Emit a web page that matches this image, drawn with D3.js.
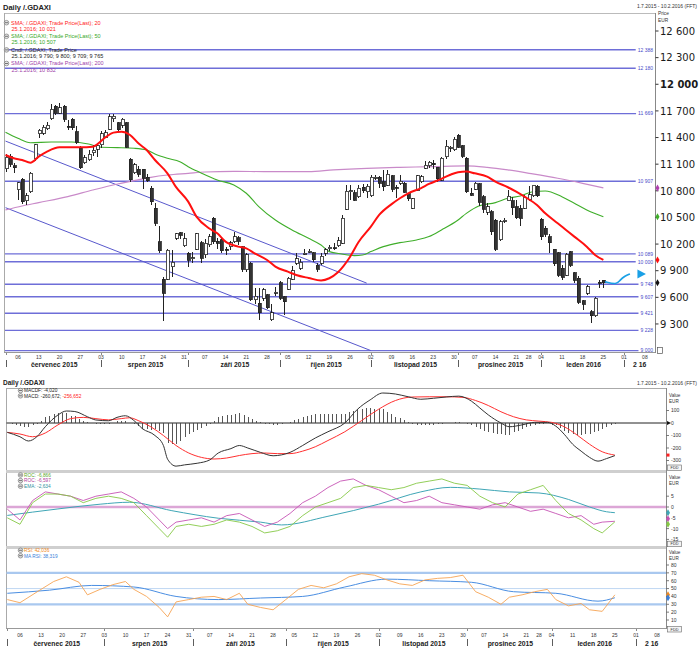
<!DOCTYPE html>
<html>
<head>
<meta charset="utf-8">
<script src="https://cdn.jsdelivr.net/npm/d3@7/dist/d3.min.js"></script>
<style>
html,body{margin:0;padding:0;background:#fff;}
svg{display:block;}
</style>
</head>
<body>
<svg id="chart" width="700" height="650"></svg>
<script>
// ================= DATA =================
const holidays = ["2015-12-24","2015-12-25","2015-12-31","2016-01-01"];
const firstDay = "2015-07-01", lastDay = "2016-02-10";
const weekTicks = ["2015-07-06","2015-07-13","2015-07-20","2015-07-27","2015-08-03","2015-08-10","2015-08-17","2015-08-24","2015-08-31","2015-09-07","2015-09-14","2015-09-21","2015-09-28","2015-10-05","2015-10-12","2015-10-19","2015-10-26","2015-11-02","2015-11-09","2015-11-16","2015-11-23","2015-11-30","2015-12-07","2015-12-14","2015-12-21","2015-12-28","2016-01-04","2016-01-11","2016-01-18","2016-01-25","2016-02-01","2016-02-08"];
const weekTickLabels = ["06","13","20","27","03","10","17","24","31","07","14","21","28","05","12","19","26","02","09","16","23","30","07","14","21","28","04","11","18","25","01","08"];
const monthStarts = ["2015-07-01","2015-08-03","2015-09-01","2015-10-01","2015-11-02","2015-12-01","2016-01-04","2016-02-01"];
const monthLabels = ["červenec 2015","srpen 2015","září 2015","říjen 2015","listopad 2015","prosinec 2015","leden 2016","2 16"];

// Candles (trading days from 1.7.2015 to 25.1.2016)
const opens = [11050,11190,11080,10810,10930,10690,10790,11160,11440,11450,
11500,11610,11750,11675,11755,11525,11605,11466,11278,11117,
11150,11230,11270,11316,11403,11493,11610,11568,11541,11568,
11155,11004,11040,11042,10950,10828,10603,10227,9803,9803,
9946,10265,10329,10179,10096,10040,10141,10216,10080,10190,
10490,10230,10246,10140,10170,10227,10270,10171,9908,9983,
9570,9533,9590,9627,9345,9650,9766,9608,9690,9803,
9983,9927,10090,10115,10104,9964,9983,10096,10150,10160,
10179,10208,10592,10800,10780,10734,10840,10790,10742,10950,
10952,10900,10865,10967,10840,10884,10884,10764,10603,10809,
10900,11053,11080,11110,11064,10921,11185,11280,11260,11428,
11305,11166,10770,10817,10877,10734,10560,10565,10471,10246,
10460,10689,10689,10621,10603,10603,10697,10742,10854,10479,
10377,10284,10141,10104,9930,9851,10115,9878,9815,9563,
9646,9439,9390,9770,9790];
const highs = [11210,11220,11110,10900,10945,10770,11010,11330,11500,11540,
11570,11780,11770,11790,11770,11600,11620,11530,11300,11200,
11260,11320,11330,11470,11480,11660,11670,11580,11620,11580,
11170,11110,11080,11050,10990,10850,10660,10400,9830,10150,
10130,10330,10340,10330,10110,10110,10330,10230,10260,10310,
10510,10270,10265,10170,10240,10340,10290,10180,10100,10000,
9700,9700,9700,9640,9530,9720,9780,9620,9830,9950,
10100,10030,10150,10140,10115,9985,10095,10160,10190,10210,
10280,10530,10870,10860,10810,10860,10880,10880,10980,10980,
10970,11030,11030,10980,10860,10980,10900,10780,10720,10980,
10980,11140,11140,11150,11070,11185,11370,11310,11410,11440,
11320,11185,10830,10900,10885,10750,10660,10580,10480,10470,
10490,10810,10730,10700,10640,10750,10850,10865,10865,10490,
10400,10310,10150,10115,9960,10100,10125,9890,9835,9570,
9740,9460,9600,9800,9800];
const lows = [11010,11070,11000,10700,10650,10640,10770,11140,11400,11430,
11490,11600,11650,11660,11580,11480,11490,11330,11040,11100,
11140,11190,11180,11280,11390,11480,11580,11460,11510,11280,
10900,10990,10960,10820,10900,10640,10400,10100,9338,9790,
9830,10250,10260,10170,9940,9990,10130,9990,10040,10170,
10200,10150,10100,10080,10130,10210,10190,9890,9890,9560,
9530,9340,9560,9470,9330,9610,9570,9400,9680,9790,
9960,9910,10080,10100,10000,9890,9965,10065,10120,10130,
10170,10200,10580,10700,10680,10720,10780,10720,10735,10920,
10830,10800,10850,10790,10720,10860,10770,10690,10590,10800,
10890,11040,11060,11050,10900,10910,11160,11240,11250,11280,
11170,10770,10740,10810,10630,10550,10530,10300,10120,10230,
10440,10680,10530,10480,10400,10590,10680,10735,10735,10250,
10280,10100,9950,9830,9790,9840,9940,9760,9530,9460,
9630,9314,9380,9700,9709];
const closes = [11180,11100,11058,10890,10676,10747,10996,11316,11484,11516,
11540,11716,11673,11735,11604,11520,11512,11347,11057,11173,
11212,11257,11308,11444,11456,11636,11641,11490,11604,11293,
10924,11091,10985,10940,10915,10678,10432,10124,9648,10128,
9997,10315,10298,10259,10016,10048,10318,10038,10210,10284,
10227,10210,10123,10131,10216,10283,10229,9916,10077,9570,
9612,9427,9688,9483,9428,9660,9590,9553,9814,9902,
10032,9993,10096,10119,10021,9915,10064,10134,10164,10147,
10238,10491,10795,10801,10692,10831,10800,10850,10950,10951,
10887,10845,10988,10815,10832,10907,10782,10708,10713,10971,
10959,11085,11119,11092,10934,11169,11300,11293,11382,11290,
11190,10789,10752,10886,10673,10592,10620,10340,10139,10451,
10470,10738,10608,10497,10488,10727,10753,10860,10743,10283,
10310,10214,9979,9849,9825,10088,9960,9795,9545,9521,
9721,9392,9589,9764,9765];

// Moving averages (trading-day index, value)
const sma20Idx = [0,2,4,6,8,10,13,18,21,22,24,26,28,30,32,34,36,39,41,44,46,49,51,53,56,58,60,63,65,68,70,73,76,78,80,83,85,88,90,93,95,97,100,102,105,107,109,111,113,116,118,121,123,125,128,130,133,135,137,140,142,144];
const sma20Val = [11203,11166,11147,11117,11185,11241,11290,11290,11297,11320,11400,11455,11466,11429,11335,11260,11147,10997,10847,10678,10509,10378,10321,10227,10171,10152,10096,10021,9946,9889,9852,9818,9790,9815,9880,10058,10220,10396,10528,10650,10716,10772,10828,10877,10935,10978,11010,11016,10997,10960,10903,10840,10790,10734,10640,10546,10434,10359,10284,10171,10077,10021];
const sma50Idx = [0,3,6,11,16,20,23,27,31,34,36,39,42,44,47,51,55,58,61,65,69,73,76,78,81,84,86,88,91,95,99,102,105,109,111,114,118,121,124,127,130,134,137,140,144];
const sma50Val = [11459,11391,11342,11350,11350,11327,11290,11286,11279,11260,11215,11166,11128,11072,11004,10922,10866,10772,10622,10471,10359,10265,10190,10115,10088,10070,10077,10115,10171,10216,10246,10284,10359,10471,10546,10629,10667,10716,10742,10790,10798,10734,10659,10584,10507];
const sma200Idx = [0,4,8,15,21,27,31,35,39,44,48,55,63,73,79,87,95,103,111,116,121,127,133,139,144];
const sma200Val = [10584,10629,10667,10734,10809,10877,10914,10952,10978,10997,11012,11019,11016,11016,11035,11053,11064,11072,11080,11064,11035,10990,10941,10884,10832];

// Horizontal levels and trend channel
const levels = [12388,12180,11669,10907,10089,10000,9748,9607,9421,9228,9000];
const trendStartIdx = [0,0], trendStartVal = [11360,10610];
const trendEndIdx = [87,88], trendEndVal = [9760,9000];
const priceTicks = [9300,9600,9900,10200,10500,10800,11100,11400,11700,12000,12300,12600];
const annotIdx = [144.4,147.2,148,149.2,150.4];
const annotVal = [9777,9740,9796,9841,9864];

// MACD panel
const macdIdx = [0,3,5,7,9,12,14,16,19,21,24,26,28,30,32,35,37,38,40,42,45,48,50,53,55,57,60,63,65,67,70,73,76,80,83,86,89,92,95,98,101,104,107,110,112,114,117,119,122,125,128,130,132,134,136,138,140,142,144];
const macdVal = [-75,-110,-144,-110,-30,64,96,92,50,24,18,45,58,20,-45,-100,-180,-290,-345,-335,-322,-295,-240,-205,-180,-200,-235,-262,-255,-235,-180,-120,-70,0,110,185,240,232,210,190,198,208,215,175,120,65,0,-30,-15,5,5,-25,-90,-170,-225,-275,-305,-285,-261];
const signalIdx = [0,3,6,9,12,15,18,21,24,27,29,31,34,37,40,43,46,49,52,55,58,61,64,67,70,73,76,80,84,88,92,96,100,104,108,111,114,117,120,123,126,129,132,135,138,141,144];
const signalVal = [-75,-88,-110,-80,-15,35,45,35,25,35,42,20,-30,-100,-180,-240,-275,-288,-280,-260,-245,-240,-245,-245,-225,-190,-140,-70,20,110,180,208,210,210,205,180,140,90,50,25,15,5,-30,-95,-170,-230,-257];
const histVal = [0,-8,-14,-22,-28,-34,-17,-10,20,50,
59,70,79,78,78,59,54,36,19,8,
-1,-11,-10,-8,-7,3,13,16,20,-3,
-11,-20,-48,-50,-52,-47,-63,-80,-163,-165,
-165,-140,-115,-91,-74,-59,-38,-25,-11,20,
45,55,63,68,74,80,65,50,33,20,
7,-4,-11,-19,-14,-10,0,10,21,34,
45,53,62,70,70,70,70,70,70,71,
70,85,98,113,115,117,120,115,112,112,
92,72,52,38,23,9,-5,-12,-19,-17,
-15,-12,-9,-5,-2,1,6,9,-3,-9,
-13,-32,-47,-60,-75,-80,-85,-90,-92,-93,
-75,-62,-48,-33,-24,-13,-10,-7,-3,-15,
-18,-39,-60,-78,-90,-95,-95,-90,-85,-75,
-60,-45,-30,-18,-4];
const macdTicks = [100,0,-100,-200,-300];

// ROC panel
const rocIdx = [0,3,6,9,12,15,18,21,24,27,30,33,36,38,40,43,46,49,52,55,58,61,64,67,70,73,76,79,82,85,88,91,94,97,100,103,106,109,112,115,118,121,124,127,130,133,136,139,141,144];
const rocGreen = [-5,-8,2,6,6,5,2,4,5,4,2,-4,-10,-14,-9,-8,-9,-8,-6,-7,-9,-12,-11,-9,-4,0,2,4,9,10,9,8,9,11,12,13,11,10,5,2,0,6,8,10,3,-3,-6,-10,-12,-6.866];
const rocMagenta = [-1,-6,3,7,6,5,3,5,6,7,4,0,-6,-10,-7,-6,-5,-7,-4,-3,-6,-9,-7,-3,2,5,9,12,13,10,8,5,2,3,5,2,1,0,-1,1,2,0,-2,-1,-3,-5,-4,-8,-7,-6.597];
const emaIdx = [0,12,22,29,39,50,60,65,76,88,98,105,112,119,126,133,138,142,144];
const emaVal = [-3.9,-0.9,1.3,2.2,-1.7,-5.2,-7,-8.3,-4.3,1.3,7,9.1,8.3,7,6.5,3.5,0,-2.2,-2.634];
const rocTicks = [5,0,-5,-10,-15];

// RSI panel
const rsiIdx = [0,3,8,11,14,17,19,22,25,28,30,33,36,38,40,43,46,49,52,55,57,60,63,66,69,72,75,78,81,84,87,90,93,96,99,102,105,108,111,114,117,119,122,125,128,130,133,136,138,141,144];
const rsiVal = [36,32,49,59,65,58,42,49,55,59,49,40,26,14,33,36,39,40,36,44,30,26,23,36,49,54,51,56,65,69,67,61,56,54,61,63,64,67,46,39,30,39,42,46,49,36,28,31,23,21,42.036];
const maRsiIdx = [0,10,20,30,40,50,60,70,80,90,100,110,120,130,140,144];
const maRsiVal = [44,48,54,52,40,36,38,40,52,62,60,58,46,44,34,38.319];
const rsiTicks = [80,70,60,50,40,30,20,10];

// ================= SETUP =================
const F1 = "'DejaVu Sans', Verdana, sans-serif";
const F2 = "'Liberation Sans', Arial, sans-serif";
const parse = d3.utcParse("%Y-%m-%d"), fmtD = d3.utcFormat("%Y-%m-%d");
const days = d3.utcDay.range(parse(firstDay), d3.utcDay.offset(parse(lastDay), 1))
  .filter(d => d.getUTCDay() !== 0 && d.getUTCDay() !== 6 && !holidays.includes(fmtD(d)))
  .map(fmtD);
const dayIndex = new Map(days.map((d, i) => [d, i]));
const nLast = days.length - 1;
const loc = d3.formatLocale({decimal: ",", thousands: " ", grouping: [3], currency: ["", ""]});
const fmtInt = loc.format(",d");

const svg = d3.select("#chart");
svg.append("rect").attr("width", 700).attr("height", 650).attr("fill", "#fff");

function text(g, x, y, s, o = {}) {
  return g.append("text").attr("x", x).attr("y", y).text(s)
    .attr("font-family", o.font || F2).attr("font-size", o.size || 5.5)
    .attr("font-weight", o.bold ? "bold" : "normal")
    .attr("fill", o.fill || "#222").attr("text-anchor", o.anchor || "start");
}
function icon(g, x, y) {
  g.append("circle").attr("cx", x).attr("cy", y).attr("r", 2.3).attr("fill", "#e4e4e4").attr("stroke", "#666").attr("stroke-width", 0.6);
  g.append("line").attr("x1", x - 1.5).attr("x2", x + 1.5).attr("y1", y).attr("y2", y).attr("stroke", "#444").attr("stroke-width", 0.7);
}
function marker(g, x, y, color) {
  g.append("path").attr("d", d3.symbol(d3.symbolDiamond, 14)()).attr("transform", `translate(${x},${y})`).attr("fill", color);
}

// ================= MAIN PANEL =================
const xM = d3.scaleLinear().domain([0, nLast]).range([5.5, 653.2]);
const yM = d3.scaleLinear().domain([9000, 12600]).range([350.6, 31]);
const main = svg.append("g");

text(main, 3, 9.5, "Daily /.GDAXI", {size: 7.5, bold: true, fill: "#222"});
text(main, 697, 7.5, "1.7.2015 - 10.2.2016 (FFT)", {size: 5, anchor: "end", fill: "#333"});
text(main, 658, 15, "Price", {size: 4.8, fill: "#333"});
text(main, 658, 21.5, "EUR", {size: 4.8, fill: "#333"});

// frame
main.append("line").attr("x1", 4).attr("x2", 655).attr("y1", 13.5).attr("y2", 13.5).attr("stroke", "#bbb");
main.append("line").attr("x1", 4.5).attr("x2", 4.5).attr("y1", 13).attr("y2", 352).attr("stroke", "#aaa");
main.append("line").attr("x1", 655.5).attr("x2", 655.5).attr("y1", 13).attr("y2", 353).attr("stroke", "#888");
main.append("line").attr("x1", 4).attr("x2", 655).attr("y1", 352.5).attr("y2", 352.5).attr("stroke", "#999");

// horizontal levels
const lvG = main.append("g");
levels.forEach(v => {
  const y = yM(v);
  const t = text(lvG, 653, y + 1.8, fmtInt(v), {size: 5, anchor: "end", fill: "#4a4ac8"});
  const w = t.node().getComputedTextLength();
  lvG.insert("line", "text").attr("x1", 5).attr("x2", 651 - w).attr("y1", y).attr("y2", y)
    .attr("stroke", "#6e6ed8").attr("stroke-width", 1.4);
});

// trend channel
trendStartIdx.forEach((s, k) => {
  main.append("line").attr("x1", xM(s)).attr("y1", yM(trendStartVal[k]))
    .attr("x2", xM(trendEndIdx[k])).attr("y2", yM(trendEndVal[k]))
    .attr("stroke", "#5858cc").attr("stroke-width", 1);
});

// moving averages (behind candles for 200/50)
const lineM = d3.line().x(d => xM(d[0])).y(d => yM(d[1])).curve(d3.curveMonotoneX);
main.append("path").attr("d", lineM(d3.zip(sma200Idx, sma200Val))).attr("fill", "none").attr("stroke", "#c98ac9").attr("stroke-width", 1.2);
main.append("path").attr("d", lineM(d3.zip(sma50Idx, sma50Val))).attr("fill", "none").attr("stroke", "#3fae2a").attr("stroke-width", 1.1);

// candles
const cG = main.append("g").attr("shape-rendering", "crispEdges");
opens.forEach((o, i) => {
  const c = closes[i];
  const x = Math.round(xM(i));
  cG.append("line").attr("x1", x + 0.5).attr("x2", x + 0.5).attr("y1", yM(highs[i])).attr("y2", yM(lows[i])).attr("stroke", "#222");
  const top = yM(Math.max(o, c)), bot = yM(Math.min(o, c));
  cG.append("rect").attr("x", x - 1).attr("width", 3).attr("y", top).attr("height", Math.max(1, bot - top))
    .attr("fill", c >= o ? "#fff" : "#333").attr("stroke", "#222").attr("stroke-width", 0.8);
});

main.append("path").attr("d", lineM(d3.zip(sma20Idx, sma20Val))).attr("fill", "none").attr("stroke", "#ff1010").attr("stroke-width", 2);

// annotation arrow (cyan)
main.append("path").attr("d", d3.line().x(d => xM(d[0])).y(d => yM(d[1])).curve(d3.curveBasis)(d3.zip(annotIdx, annotVal)))
  .attr("fill", "none").attr("stroke", "#1aa0e6").attr("stroke-width", 1.6);
{
  const tx = xM(152.2), ty = yM(9864);
  main.append("path").attr("d", `M${tx},${ty - 4.5}L${tx + 8.5},${ty}L${tx},${ty + 4.5}Z`).attr("fill", "#1aa0e6");
}

// legend main
const legMain = [
  {c: "#ff2020", a: "SMA; /.GDAXI; Trade Price(Last);  20", b: "25.1.2016; 10 021"},
  {c: "#38a828", a: "SMA; /.GDAXI; Trade Price(Last);  50", b: "25.1.2016; 10 507"},
  {c: "#222", a: "Cndl; /.GDAXI; Trade Price", b: "25.1.2016; 9 790; 9 800; 9 709; 9 765"},
  {c: "#a040a8", a: "SMA; /.GDAXI; Trade Price(Last);  200", b: "25.1.2016; 10 832"}
];
legMain.forEach((e, k) => {
  const y = 24.5 + k * 13.6;
  icon(main, 6.5, y - 1.8);
  text(main, 11, y, e.a, {size: 5.5, fill: e.c});
  text(main, 11.5, y + 6.3, e.b, {size: 5.5, fill: e.c});
});

// right price axis
priceTicks.forEach(v => {
  const y = yM(v);
  main.append("line").attr("x1", 655.5).attr("x2", 658.5).attr("y1", y).attr("y2", y).attr("stroke", "#333");
  text(main, 660, y + 3.7, fmtInt(v), {font: F1, size: 10, fill: "#1a1a1a", bold: v === 12000});
});
main.append("rect").attr("x", 657.5).attr("y", yM(9000) - 3).attr("width", 5).attr("height", 6).attr("fill", "#fff").attr("stroke", "#555").attr("stroke-width", 0.7);
marker(main, 657.5, yM(sma200Val[sma200Val.length - 1]), "#b040b0");
marker(main, 657.5, yM(sma50Val[sma50Val.length - 1]), "#3fae2a");
marker(main, 657.5, yM(sma20Val[sma20Val.length - 1]), "#ff1010");
marker(main, 657.5, yM(closes[closes.length - 1]), "#111");

// x-axis labels
function xAxisLabels(g, xs, yTick, yMonth, yTop) {
  weekTicks.forEach((d, k) => {
    text(g, xs(dayIndex.get(d)), yTick, weekTickLabels[k], {size: 5, anchor: "middle", fill: "#333"});
  });
  monthStarts.forEach((d, k) => {
    const x0 = xs(dayIndex.get(d));
    const x1 = k < monthStarts.length - 1 ? xs(dayIndex.get(monthStarts[k + 1])) : xs(nLast);
    const xr = Math.round(x0) + 0.5;
    g.append("line").attr("x1", xr).attr("x2", xr).attr("y1", yMonth - 6.5).attr("y2", yMonth + 0.5).attr("stroke", "#333").attr("stroke-width", 0.8);
    g.append("line").attr("x1", xr).attr("x2", xr).attr("y1", yTop).attr("y2", yTop + 2).attr("stroke", "#555").attr("stroke-width", 0.7);
    text(g, (x0 + x1) / 2 + 1, yMonth, monthLabels[k], {size: 6.8, bold: true, anchor: "middle", fill: "#222"});
  });
}
xAxisLabels(main, xM, 358.5, 366.5, 353);

// ================= SUB PANELS =================
const xS = d3.scaleLinear().domain([0, nLast]).range([7.3, 665.5]);
const sub = svg.append("g");
text(sub, 3, 385, "Daily /.GDAXI", {size: 6.5, bold: true, fill: "#222"});
text(sub, 697, 385, "1.7.2015 - 10.2.2016 (FFT)", {size: 5, anchor: "end", fill: "#333"});

// frames
sub.append("line").attr("x1", 6).attr("x2", 666).attr("y1", 388.5).attr("y2", 388.5).attr("stroke", "#aaa");
sub.append("line").attr("x1", 6.5).attr("x2", 6.5).attr("y1", 388).attr("y2", 628).attr("stroke", "#aaa");
sub.append("line").attr("x1", 666.5).attr("x2", 666.5).attr("y1", 388).attr("y2", 629).attr("stroke", "#888");
sub.append("line").attr("x1", 6).attr("x2", 666).attr("y1", 471.5).attr("y2", 471.5).attr("stroke", "#cfcfcf").attr("stroke-width", 3);
sub.append("line").attr("x1", 6).attr("x2", 666).attr("y1", 547.5).attr("y2", 547.5).attr("stroke", "#cfcfcf").attr("stroke-width", 3);
sub.append("line").attr("x1", 6).attr("x2", 666).attr("y1", 628.5).attr("y2", 628.5).attr("stroke", "#999");

function axisTicks(g, ys, ticks, fmtF) {
  ticks.forEach(v => {
    const y = ys(v);
    g.append("line").attr("x1", 666.5).attr("x2", 669).attr("y1", y).attr("y2", y).attr("stroke", "#444").attr("stroke-width", 0.7);
    text(g, 671, y + 1.9, fmtF(v), {size: 5, fill: "#333"});
  });
}
function valueEur(g, y) {
  text(g, 669, y, "Value", {size: 4.6, fill: "#333"});
  text(g, 669, y + 6, "EUR", {size: 4.6, fill: "#333"});
}
function boxLabel(g, y) {
  g.append("rect").attr("x", 667.5).attr("y", y - 4).attr("width", 14).attr("height", 5.5).attr("fill", "#f4f4f4").attr("stroke", "#666").attr("stroke-width", 0.6);
  text(g, 674.5, y, "FDD", {size: 3.8, anchor: "middle", fill: "#333"});
}
const fmtSub = v => String(v);

// --- MACD ---
const yMacd = d3.scaleLinear().domain([-300, 100]).range([460.5, 410.5]);
const gm = sub.append("g");
gm.append("line").attr("x1", 6.5).attr("x2", 666).attr("y1", yMacd(0)).attr("y2", yMacd(0)).attr("stroke", "#222").attr("stroke-width", 1);
const hG = gm.append("g").attr("shape-rendering", "crispEdges");
histVal.forEach((h, i) => {
  const x = Math.round(xS(i)) + 0.5;
  hG.append("line").attr("x1", x).attr("x2", x).attr("y1", yMacd(0)).attr("y2", yMacd(h)).attr("stroke", "#444").attr("stroke-width", 0.9);
});
const lineMacd = d3.line().x(d => xS(d[0])).y(d => yMacd(d[1])).curve(d3.curveMonotoneX);
gm.append("path").attr("d", lineMacd(d3.zip(signalIdx, signalVal))).attr("fill", "none").attr("stroke", "#ff3030").attr("stroke-width", 1);
gm.append("path").attr("d", lineMacd(d3.zip(macdIdx, macdVal))).attr("fill", "none").attr("stroke", "#333").attr("stroke-width", 1);
icon(gm, 20.5, 390.5);
text(gm, 24, 392.3, "MACDF: -4,020", {size: 4.8, fill: "#222"});
icon(gm, 20.5, 395.8);
const t2 = text(gm, 24, 397.6, "MACD: -260,672; ", {size: 4.8, fill: "#222"});
t2.append("tspan").attr("fill", "#ff2020").text("-256,652");
valueEur(gm, 397);
axisTicks(gm, yMacd, macdTicks, fmtSub);
boxLabel(gm, 469);
gm.append("path").attr("d", `M667,${yMacd(0) - 2}L671,${yMacd(0)}L667,${yMacd(0) + 2}Z`).attr("fill", "#111");
gm.append("rect").attr("x", 666.5).attr("y", yMacd(-256.652) - 1.5).attr("width", 3).attr("height", 3).attr("fill", "#ff2020");

// --- ROC ---
const yRoc = d3.scaleLinear().domain([-15, 5]).range([539.4, 496.2]);
const gr = sub.append("g");
gr.append("line").attr("x1", 6.5).attr("x2", 666).attr("y1", yRoc(0)).attr("y2", yRoc(0)).attr("stroke", "#dca6d6").attr("stroke-width", 2.5);
const lineRoc = d3.line().x(d => xS(d[0])).y(d => yRoc(d[1]));
gr.append("path").attr("d", lineRoc.curve(d3.curveMonotoneX)(d3.zip(emaIdx, emaVal))).attr("fill", "none").attr("stroke", "#3fa6b6").attr("stroke-width", 1);
gr.append("path").attr("d", lineRoc.curve(d3.curveLinear)(d3.zip(rocIdx, rocMagenta))).attr("fill", "none").attr("stroke", "#c653b4").attr("stroke-width", 0.9);
gr.append("path").attr("d", lineRoc.curve(d3.curveLinear)(d3.zip(rocIdx, rocGreen))).attr("fill", "none").attr("stroke", "#86c846").attr("stroke-width", 0.9);
icon(gr, 20.5, 475);
text(gr, 24, 476.8, "ROC: -6,866", {size: 4.8, fill: "#5aa82a"});
icon(gr, 20.5, 480.6);
text(gr, 24, 482.4, "ROC: -6,597", {size: 4.8, fill: "#b0409c"});
icon(gr, 20.5, 486.2);
text(gr, 24, 488, "EMA: -2,634", {size: 4.8, fill: "#2f8fa0"});
valueEur(gr, 478.5);
axisTicks(gr, yRoc, rocTicks, fmtSub);
boxLabel(gr, 545.2);
marker(gr, 668, yRoc(-2.634), "#3fa6b6");
marker(gr, 668, yRoc(-6.597) - 2.5, "#c653b4");
marker(gr, 668, yRoc(-6.866) + 2.5, "#86c846");

// --- RSI ---
const yRsi = d3.scaleLinear().domain([10, 80]).range([620, 565]);
const gs = sub.append("g");
[70, 30].forEach(v => gs.append("line").attr("x1", 6.5).attr("x2", 666).attr("y1", yRsi(v)).attr("y2", yRsi(v)).attr("stroke", "#a9c8ef").attr("stroke-width", 2.2));
gs.append("line").attr("x1", 6.5).attr("x2", 666).attr("y1", yRsi(50)).attr("y2", yRsi(50)).attr("stroke", "#7eaee6").attr("stroke-width", 1).attr("stroke-dasharray", "1,1");
const lineRsi = d3.line().x(d => xS(d[0])).y(d => yRsi(d[1]));
gs.append("path").attr("d", lineRsi.curve(d3.curveMonotoneX)(d3.zip(maRsiIdx, maRsiVal))).attr("fill", "none").attr("stroke", "#4a8ee2").attr("stroke-width", 1);
gs.append("path").attr("d", lineRsi.curve(d3.curveLinear)(d3.zip(rsiIdx, rsiVal))).attr("fill", "none").attr("stroke", "#f6a454").attr("stroke-width", 0.9);
icon(gs, 20.5, 550.3);
text(gs, 24, 552.1, "RSI: 42,036", {size: 4.8, fill: "#f08a20"});
icon(gs, 20.5, 555.7);
text(gs, 24, 557.5, "MA RSI: 38,319", {size: 4.8, fill: "#3a7ed8"});
valueEur(gs, 554);
axisTicks(gs, yRsi, rsiTicks, fmtSub);
boxLabel(gs, 630.5);
marker(gs, 668, yRsi(42.036), "#f08a20");
marker(gs, 668, yRsi(38.319), "#3a7ed8");

xAxisLabels(sub, xS, 636.5, 645.5, 629);
</script>
</body>
</html>
